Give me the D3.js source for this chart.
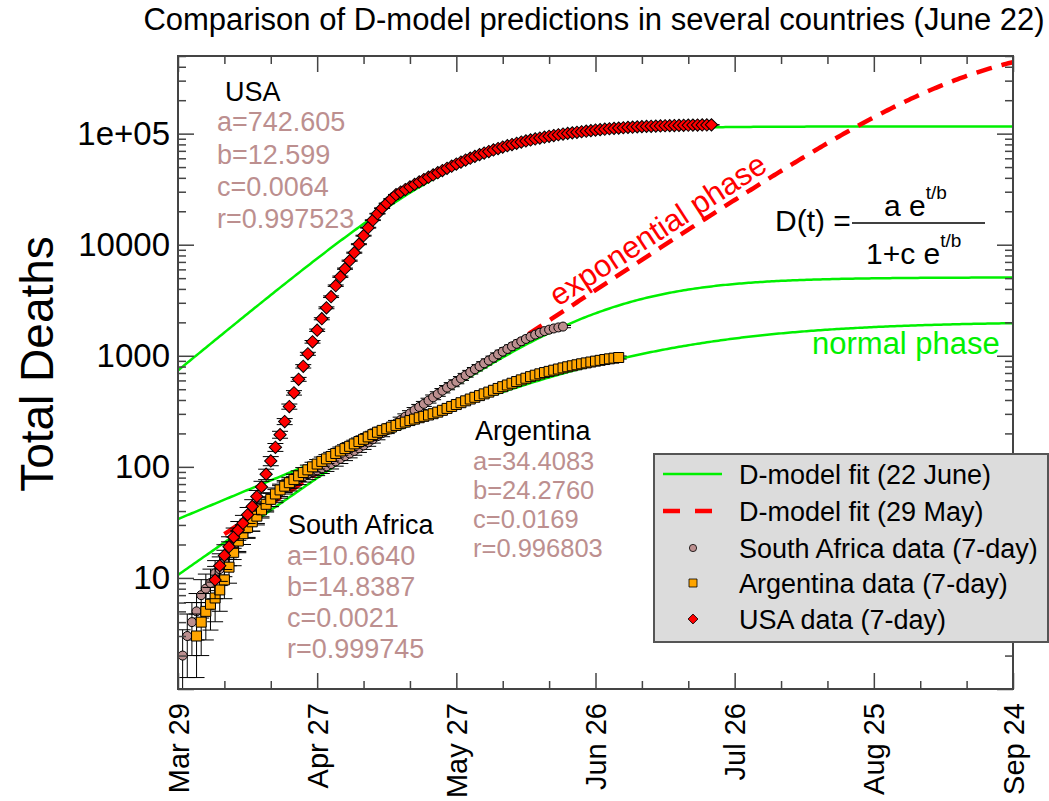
<!DOCTYPE html>
<html>
<head>
<meta charset="utf-8">
<script src="https://cdn.jsdelivr.net/npm/d3@7"></script>
<style>
  body { margin: 0; background: #fff; }
  text { font-family: "Liberation Sans", Arial, Helvetica, sans-serif; }
</style>
</head>
<body>
<svg id="chart" width="1049" height="801"></svg>
<script>
// ---- axis labels ----
const dayTicks = [0, 30, 60, 90, 120, 150, 180];
const dayLabels = ["Mar 29", "Apr 27", "May 27", "Jun 26", "Jul 26", "Aug 25", "Sep 24"];
const deathTicks = [10, 100, 1000, 10000, 100000];
const deathLabels = ["10", "100", "1000", "10000", "1e+05"];

// ---- 7-day cumulative deaths, one value per day (day 0 = Mar 29) ----
const saFirstDay = 1;
const saDeaths = [2, 3, 4, 5, 7, 8, 9, 11, 12, 14,
  17, 19, 22, 25, 28, 32, 37, 42, 47, 51,
  55, 60, 65, 69, 73, 78, 82, 86, 90, 93,
  97, 101, 106, 112, 118, 125, 132, 139, 147, 156,
  166, 177, 189, 201, 214, 229, 246, 264, 283, 303,
  324, 346, 369, 395, 423, 453, 485, 517, 550, 584,
  625, 668, 712, 757, 805, 855, 907, 962, 1030, 1090,
  1152, 1216, 1282, 1350, 1418, 1486, 1551, 1612, 1668, 1718,
  1762, 1800, 1832];

const arFirstDay = 4;
const arDeaths = [3.0, 4.0, 5.0, 5.8, 6.6, 7.8, 9.6, 12.5, 17, 21.5,
  25, 28.5, 32, 36, 41, 46, 51, 57, 62, 67,
  72, 77, 83, 89, 94, 100, 106, 112, 118, 124,
  132, 139, 146, 153, 161, 169, 177, 186, 195, 205,
  213, 220, 228, 236, 245, 253, 261, 269, 277, 285,
  293, 301, 311, 323, 336, 350, 364, 378, 393, 408,
  423, 438, 454, 471, 489, 508, 527, 546, 566, 586,
  607, 628, 649, 669, 688, 706, 724, 742, 760, 778,
  796, 813, 830, 847, 863, 879, 895, 910, 925, 939,
  952, 965];

const usFirstDay = 8;
const usDeaths = [9.6, 12.9, 15.9, 19.1, 23.3, 27, 31, 37, 44, 54,
  66, 86, 113, 150, 195, 256, 349,
  464, 614, 804, 1042, 1336, 1698, 2155, 2704, 3403, 4276,
  5152, 6084, 7181, 8476, 10110, 12060, 14230, 16630, 19030,
  21330, 23550, 25820,
  28184, 29785, 31405, 33113, 34914, 36728, 38637, 40551, 42462, 44463,
  46559, 48753, 50933, 53211, 55463, 57810, 60117, 62373, 64714, 66834,
  69024, 71285, 73451, 75683, 77804, 79799, 81846, 83946, 85901, 87700,
  89536, 91201, 92897, 94624, 96161, 97724, 99083, 100462, 101625, 102802,
  103992, 105196, 106414, 107646, 108643, 109648, 110665, 111429, 112202, 112980,
  113763, 114288, 115080, 115611, 116145, 116413, 116950, 117220, 117761, 118032,
  118304, 118577, 118850, 119124, 119399, 119520, 119674, 119800, 119950];

// ---- D-model fit parameters (22 June), order: South Africa, Argentina, USA ----
const fitCountries = ["South Africa", "Argentina", "USA"];
const fitA = ["10.6640", "34.4083", "742.605"];
const fitB = ["14.8387", "24.2760", "12.599"];
const fitC = ["0.0021", "0.0169", "0.0064"];
const fitR = ["0.999745", "0.996803", "0.997523"];

// South Africa D-model fit made on 29 May: a, b, c, and the day range it is drawn over
const mayFitParams = [13.18, 15.8, 1.865e-5];
const mayFitDays = [10, 180];

const legendLabels = ["D-model fit (22 June)", "D-model fit (29 May)",
  "South Africa data (7-day)", "Argentina data (7-day)", "USA data (7-day)"];

// ---------------------------------------------------------------
const frame = { left: 178, right: 1013, top: 56, bottom: 689 };
const svg = d3.select("#chart");
const x = d3.scaleLinear().domain([0, 180]).range([frame.left, frame.right]);
const y = d3.scaleLog().domain([1, 5e5]).range([frame.bottom, frame.top]);

const GREEN = "#00f000", RED = "#ff0000", ROSY = "#bc8f8f", ORANGE = "#ffa500";
const dmodel = (a, b, c) => t => a * Math.exp(t / b) / (1 + c * Math.exp(t / b));

svg.append("defs").append("clipPath").attr("id", "plot-clip")
  .append("rect").attr("x", frame.left).attr("y", frame.top)
  .attr("width", frame.right - frame.left).attr("height", frame.bottom - frame.top);

// title
svg.append("text").attr("x", 594).attr("y", 30).attr("text-anchor", "middle")
  .attr("font-size", 31).attr("fill", "#000")
  .text("Comparison of D-model predictions in several countries (June 22)");

// y axis title
svg.append("text").attr("transform", "translate(53,364) rotate(-90)")
  .attr("text-anchor", "middle").attr("font-size", 46).attr("fill", "#000")
  .text("Total Deaths");

const plot = svg.append("g").attr("clip-path", "url(#plot-clip)");

// fit curves
const line = (f, t0, t1) => d3.line().x(t => x(t)).y(t => y(f(t)))(d3.range(t0, t1 + 0.001, 0.5));
fitCountries.forEach((name, i) => {
  const f = dmodel(+fitA[i], +fitB[i], +fitC[i]);
  plot.append("path").attr("d", line(f, 0, 180)).attr("fill", "none")
    .attr("stroke", GREEN).attr("stroke-width", 2.5);
});
plot.append("path").attr("d", line(dmodel(...mayFitParams), ...mayFitDays)).attr("fill", "none")
  .attr("stroke", RED).attr("stroke-width", 4.5).attr("stroke-dasharray", "16,10");

// data sets with error bars
const symCircle = d3.symbol().type(d3.symbolCircle).size(64)();
const symSquare = d3.symbol().type(d3.symbolSquare).size(100)();
const symDiamond = d3.symbol().type(d3.symbolSquare).size(76)();

const sets = [
  { first: saFirstDay, values: saDeaths, fill: ROSY, shape: symCircle, rot: 0 },
  { first: arFirstDay, values: arDeaths, fill: ORANGE, shape: symSquare, rot: 0 },
  { first: usFirstDay, values: usDeaths, fill: RED, shape: symDiamond, rot: 45 }
];

sets.forEach(s => {
  const pts = s.values.map((v, i) => ({ t: s.first + i, v }));
  const g = plot.append("g");
  const eb = g.append("g").attr("stroke", "#000").attr("stroke-width", 1);
  pts.forEach(p => {
    const e = Math.sqrt(p.v);
    const lo = Math.max(p.v - e, 0.3), hi = p.v + e;
    const cx = x(p.t);
    eb.append("line").attr("x1", cx).attr("x2", cx).attr("y1", y(lo)).attr("y2", y(hi));
    eb.append("line").attr("x1", cx - 8).attr("x2", cx + 8).attr("y1", y(lo)).attr("y2", y(lo));
    eb.append("line").attr("x1", cx - 8).attr("x2", cx + 8).attr("y1", y(hi)).attr("y2", y(hi));
  });
  g.selectAll("path.mark").data(pts).join("path").attr("class", "mark")
    .attr("d", s.shape)
    .attr("transform", p => `translate(${x(p.t)},${y(p.v)}) rotate(${s.rot})`)
    .attr("fill", s.fill).attr("stroke", "#000").attr("stroke-width", 1);
});

// axes: ticks point inward on all four sides
const minorDays = d3.range(0, 181, 10).filter(d => !dayTicks.includes(d));
const minorDeaths = [];
for (let k = 0; k < 6; k++) for (let m = 2; m <= 9; m++) {
  const v = m * Math.pow(10, k);
  if (v <= 5e5) minorDeaths.push(v);
}
const majorDeaths = [1, ...deathTicks];
const axisColor = "#444";
function styleAxis(g) {
  g.select(".domain").remove();
  g.selectAll("line").attr("stroke", axisColor).attr("stroke-width", 1.5);
}
svg.append("g").attr("transform", `translate(0,${frame.bottom})`)
  .call(d3.axisBottom(x).tickValues(minorDays).tickSize(-8).tickFormat(""))
  .call(styleAxis);
svg.append("g").attr("transform", `translate(0,${frame.top})`)
  .call(d3.axisTop(x).tickValues(minorDays).tickSize(-8).tickFormat(""))
  .call(styleAxis);
svg.append("g").attr("transform", `translate(0,${frame.top})`)
  .call(d3.axisTop(x).tickValues(dayTicks).tickSize(-16).tickFormat(""))
  .call(styleAxis);
const xAxis = svg.append("g").attr("transform", `translate(0,${frame.bottom})`)
  .call(d3.axisBottom(x).tickValues(dayTicks).tickSize(-16)
    .tickFormat((d, i) => dayLabels[i]))
  .call(styleAxis);
xAxis.selectAll("text")
  .attr("font-family", "Liberation Sans, Arial, sans-serif").attr("font-size", 29)
  .attr("fill", "#000").attr("text-anchor", "end")
  .attr("x", 0).attr("y", 0).attr("dy", "0.35em")
  .attr("transform", "translate(0,14) rotate(-90)");

svg.append("g").attr("transform", `translate(${frame.left},0)`)
  .call(d3.axisLeft(y).tickValues(minorDeaths).tickSize(-8).tickFormat(""))
  .call(styleAxis);
svg.append("g").attr("transform", `translate(${frame.right},0)`)
  .call(d3.axisRight(y).tickValues(minorDeaths).tickSize(-8).tickFormat(""))
  .call(styleAxis);
svg.append("g").attr("transform", `translate(${frame.right},0)`)
  .call(d3.axisRight(y).tickValues(majorDeaths).tickSize(-16).tickFormat(""))
  .call(styleAxis);
const yAxis = svg.append("g").attr("transform", `translate(${frame.left},0)`)
  .call(d3.axisLeft(y).tickValues(majorDeaths).tickSize(-16).tickPadding(8)
    .tickFormat(d => { const i = deathTicks.indexOf(d); return i < 0 ? "" : deathLabels[i]; }))
  .call(styleAxis);
yAxis.selectAll("text").attr("font-family", "Liberation Sans, Arial, sans-serif")
  .attr("font-size", 33).attr("fill", "#000");

svg.append("rect").attr("x", frame.left).attr("y", frame.top)
  .attr("width", frame.right - frame.left).attr("height", frame.bottom - frame.top)
  .attr("fill", "none").attr("stroke", axisColor).attr("stroke-width", 2);

// fit parameter annotations
const blocks = [
  { i: 0, nameX: 288, paramX: 287, size: 27, ys: [534, 565, 596, 627, 658] },
  { i: 1, nameX: 475, paramX: 473, size: 25.5, ys: [440, 470, 499, 528, 557] },
  { i: 2, nameX: 225, paramX: 217, size: 27, ys: [101, 131, 164, 196, 228] }
];
blocks.forEach(b => {
  const g = svg.append("g");
  g.append("text").attr("x", b.nameX).attr("y", b.ys[0]).attr("font-size", 27)
    .attr("fill", "#000").text(fitCountries[b.i]);
  [["a", fitA], ["b", fitB], ["c", fitC], ["r", fitR]].forEach(([k, arr], j) => {
    g.append("text").attr("x", b.paramX).attr("y", b.ys[j + 1]).attr("font-size", b.size)
      .attr("fill", ROSY).text(`${k}=${arr[b.i]}`);
  });
});

// phase labels
svg.append("text").attr("transform", "translate(558,307) rotate(-33)")
  .attr("font-size", 31).attr("fill", RED).text("exponential phase");
svg.append("text").attr("x", 812).attr("y", 354)
  .attr("font-size", 31).attr("fill", GREEN).text("normal phase");

// model formula
const fm = svg.append("g").attr("fill", "#000");
fm.append("text").attr("x", 775).attr("y", 231).attr("font-size", 30).text("D(t) =");
fm.append("line").attr("x1", 852).attr("x2", 985).attr("y1", 223).attr("y2", 223)
  .attr("stroke", "#000").attr("stroke-width", 1.5);
const num = fm.append("text").attr("x", 884).attr("y", 216).attr("font-size", 30);
num.append("tspan").text("a e");
num.append("tspan").attr("dy", -17).attr("font-size", 19).text("t/b");
const den = fm.append("text").attr("x", 866).attr("y", 264).attr("font-size", 30);
den.append("tspan").text("1+c e");
den.append("tspan").attr("dy", -17).attr("font-size", 19).text("t/b");

// legend
const lg = svg.append("g");
lg.append("rect").attr("x", 654).attr("y", 454).attr("width", 394).attr("height", 188)
  .attr("fill", "#dcdcdc").attr("stroke", "#555").attr("stroke-width", 2);
const rowY = [474, 511, 548, 583, 619];
lg.append("line").attr("x1", 663).attr("x2", 722).attr("y1", rowY[0]).attr("y2", rowY[0])
  .attr("stroke", GREEN).attr("stroke-width", 2.5);
lg.append("line").attr("x1", 663).attr("x2", 722).attr("y1", rowY[1]).attr("y2", rowY[1])
  .attr("stroke", RED).attr("stroke-width", 4.5).attr("stroke-dasharray", "17,15");
sets.forEach((s, k) => {
  lg.append("path").attr("d", s.shape)
    .attr("transform", `translate(693,${rowY[k + 2]}) rotate(${s.rot}) scale(0.8)`)
    .attr("fill", s.fill).attr("stroke", "#000").attr("stroke-width", 1);
});
legendLabels.forEach((t, k) => {
  lg.append("text").attr("x", 739).attr("y", rowY[k] + 9.5).attr("font-size", 27)
    .attr("fill", "#000").text(t);
});
</script>
</body>
</html>
